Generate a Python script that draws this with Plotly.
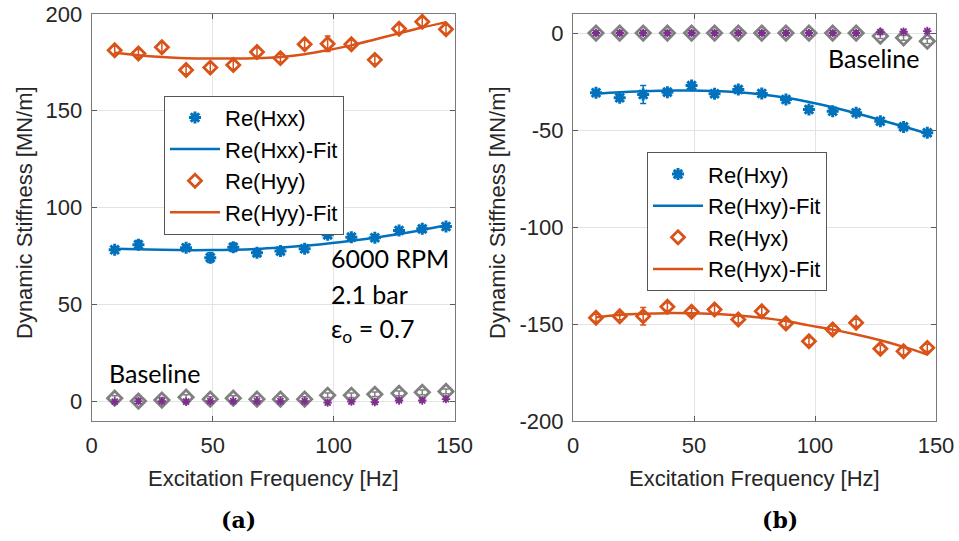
import plotly.graph_objects as go

# ---------------- data ----------------
freq = [9.5, 19.3, 29, 39, 49, 58.5, 68.3, 78, 88, 97.5, 107.3, 117, 127, 136.6, 146.4]

# panel (a)
freq_hxx = [9.5, 19.3, 39, 49, 58.5, 68.3, 78, 88, 97.5, 107.3, 117, 127, 136.6, 146.4]
re_hxx = [78.2, 80.8, 79.2, 74.1, 79.5, 76.6, 77.5, 78.7, 85.9, 84.7, 84.4, 88.1, 89.0, 90.2]
re_hxx_err = [1.2, 2.2, 1.2, 2.5, 2.2, 1.2, 1.2, 1.2, 1.0, 1.0, 1.2, 1.2, 1.0, 1.2]
re_hxx_fit = [78.7, 78.4, 78.2, 78.0, 78.0, 78.2, 78.6, 79.3, 80.2, 81.4, 82.8, 84.4, 86.3, 88.4, 90.8]

re_hyy = [181.3, 179.6, 182.8, 171.1, 172.3, 173.7, 180.4, 177.2, 184.4, 184.6, 184.4, 176.3, 192.4, 196.0, 192.1]
re_hyy_err = [2.0, 2.0, 2.5, 2.0, 2.2, 2.2, 2.2, 2.0, 2.0, 4.0, 2.0, 2.0, 2.0, 2.2, 2.2]
re_hyy_fit = [180.0, 178.7, 177.8, 177.2, 177.0, 177.0, 177.1, 177.8, 179.2, 181.3, 183.8, 186.8, 190.0, 193.0, 195.8]

base_a_gray = [1.5, 0.0, 0.5, 2.0, 1.0, 1.5, 1.0, 1.0, 1.0, 3.0, 3.0, 3.5, 4.0, 4.5, 5.0]
base_a_purple = [-0.3, 0.0, 0.0, -0.3, 0.0, 0.0, 0.0, 0.0, 0.0, -0.8, -0.3, -0.5, 0.3, 0.3, 1.0]

# panel (b)
re_hxy = [-30.8, -33.4, -31.7, -30.5, -27.1, -31.3, -29.1, -31.2, -34.3, -39.4, -40.3, -41.1, -45.5, -48.4, -51.4]
re_hxy_err = [1.2, 1.5, 4.6, 1.2, 1.5, 1.5, 1.2, 1.2, 1.0, 1.5, 1.2, 1.2, 1.2, 1.2, 1.2]
re_hxy_fit = [-31.2, -30.5, -30.0, -29.7, -29.6, -29.9, -30.6, -31.7, -33.4, -35.6, -38.3, -41.4, -44.8, -48.2, -51.8]

re_hyx = [-146.8, -146.0, -146.0, -141.1, -143.7, -142.5, -147.7, -143.4, -149.7, -158.9, -152.8, -149.4, -162.8, -164.0, -162.3]
re_hyx_err = [1.8, 1.8, 4.5, 2.0, 1.8, 2.0, 1.8, 2.0, 1.8, 1.8, 1.8, 1.8, 1.8, 1.8, 1.8]
re_hyx_fit = [-146.5, -145.3, -144.7, -144.4, -144.5, -144.9, -145.6, -146.8, -148.5, -150.7, -152.9, -155.4, -158.4, -161.8, -165.7]

base_b_gray = [0, 0, 0, 0, 0, 0, 0, 0, 0, 0, 0, 0, -1.6, -2.5, -4.2]
base_b_purple = [0, 0, 0, 0, 0, 0, 0, 0, 0, 0, 0, 0, 0.5, 0.7, 1.0]

x_ticks = [0, 50, 100, 150]
ya_ticks = [0, 50, 100, 150, 200]
yb_ticks = [0, -50, -100, -150, -200]
yb_ticktext = ["0", "-50", "-100", "-150", "-200"]

# ---------------- style ----------------
BLUE = "#0072BD"
ORANGE = "#D95319"
GRAY = "#808080"
PURPLE = "#7E2F8E"
FONT = "Liberation Sans, Arial, sans-serif"
TXT = "#262626"

fig = go.Figure()


def err(arr, color):
    return dict(type="data", array=arr, visible=True, color=color, thickness=1.5, width=3)


def add_panel(xa, ya, legend, base_gray, base_purple, pts1, e1, fit1, name1, pts2, e2, fit2, name2, x1=None):
    x1 = x1 if x1 is not None else freq
    fig.add_trace(go.Scatter(x=freq, y=base_gray, mode="markers", xaxis=xa, yaxis=ya,
                             marker=dict(symbol="diamond-open", size=11, color=GRAY, line=dict(width=2.8, color=GRAY)),
                             error_y=err([1.2] * len(freq), GRAY), showlegend=False))
    fig.add_trace(go.Scatter(x=freq, y=base_purple, mode="markers", xaxis=xa, yaxis=ya,
                             marker=dict(symbol="asterisk-open", size=7, color=PURPLE, line=dict(width=1.8, color=PURPLE)),
                             showlegend=False))
    fig.add_trace(go.Scatter(x=x1, y=pts1, mode="markers", name=name1, xaxis=xa, yaxis=ya, legend=legend,
                             marker=dict(symbol="asterisk-open", size=10, color=BLUE, line=dict(width=3, color=BLUE)),
                             error_y=err(e1, BLUE)))
    fig.add_trace(go.Scatter(x=freq, y=fit1, mode="lines", name=name1 + "-Fit", xaxis=xa, yaxis=ya, legend=legend,
                             line=dict(color=BLUE, width=2.5, shape="spline")))
    fig.add_trace(go.Scatter(x=freq, y=pts2, mode="markers", name=name2, xaxis=xa, yaxis=ya, legend=legend,
                             marker=dict(symbol="diamond-open", size=10, color=ORANGE, line=dict(width=2.8, color=ORANGE)),
                             error_y=err(e2, ORANGE)))
    fig.add_trace(go.Scatter(x=freq, y=fit2, mode="lines", name=name2 + "-Fit", xaxis=xa, yaxis=ya, legend=legend,
                             line=dict(color=ORANGE, width=2.5, shape="spline")))


add_panel("x", "y", "legend", base_a_gray, base_a_purple, re_hxx, re_hxx_err, re_hxx_fit, "Re(Hxx)",
          re_hyy, re_hyy_err, re_hyy_fit, "Re(Hyy)", x1=freq_hxx)
add_panel("x2", "y2", "legend2", base_b_gray, base_b_purple, re_hxy, re_hxy_err, re_hxy_fit, "Re(Hxy)",
          re_hyx, re_hyx_err, re_hyx_fit, "Re(Hyx)")

W, H = 959, 541
axis_common = dict(showline=True, linecolor="#7a7a7a", linewidth=1, mirror="ticks", ticks="inside",
                   ticklen=5, tickcolor="#5a5a5a", showgrid=True, gridcolor="#e3e3e3", gridwidth=1,
                   zeroline=False, automargin=False, tickfont=dict(family=FONT, size=22, color=TXT))

ydom = [1 - 421 / H, 1 - 14 / H]
fig.update_layout(
    width=W, height=H, margin=dict(l=0, r=0, t=0, b=0, autoexpand=False),
    paper_bgcolor="white", plot_bgcolor="white",
    xaxis=dict(domain=[91.7 / W, 454.7 / W], range=[0, 150], tickvals=x_ticks, anchor="y",
               ticklabelstandoff=5, **axis_common),
    yaxis=dict(domain=ydom, range=[-10.3, 200], tickvals=ya_ticks, anchor="x",
               ticklabelstandoff=4, **axis_common),
    xaxis2=dict(domain=[573 / W, 936 / W], range=[0, 150], tickvals=x_ticks, anchor="y2",
                ticklabelstandoff=5, **axis_common),
    yaxis2=dict(domain=ydom, range=[-200, 9.8], tickvals=yb_ticks, ticktext=yb_ticktext, anchor="x2",
                ticklabelstandoff=4, **axis_common),
    legend=dict(x=164 / W, y=1 - 95.7 / H, xanchor="left", yanchor="top", bgcolor="white",
                bordercolor="#555555", borderwidth=1, itemwidth=50,
                font=dict(family=FONT, size=22, color="black"), tracegroupgap=0),
    legend2=dict(x=647 / W, y=1 - 152.3 / H, xanchor="left", yanchor="top", bgcolor="white",
                 bordercolor="#555555", borderwidth=1, itemwidth=50,
                 font=dict(family=FONT, size=22, color="black"), tracegroupgap=0),
)

ANN_FONT = dict(family="Lato, Noto Sans, sans-serif", size=25, color="black")
anns = [
    dict(text="6000 RPM", x=329 / W, y=1 - 258 / H),
    dict(text="2.1 bar", x=329 / W, y=1 - 294 / H),
    dict(text="ε<sub>o</sub> = 0.7", x=329 / W, y=1 - 330 / H),
    dict(text="Baseline", x=107 / W, y=1 - 373 / H),
    dict(text="Baseline", x=826 / W, y=1 - 58 / H),
]
for a in anns:
    fig.add_annotation(xref="paper", yref="paper", xanchor="left", yanchor="middle", showarrow=False,
                       font=ANN_FONT, **a)

TITLE_FONT = dict(family=FONT, size=22, color=TXT)
fig.add_annotation(text="Excitation Frequency [Hz]", x=273.2 / W, y=1 - 478 / H, xref="paper", yref="paper",
                   showarrow=False, xanchor="center", yanchor="middle", font=TITLE_FONT)
fig.add_annotation(text="Excitation Frequency [Hz]", x=754.5 / W, y=1 - 478 / H, xref="paper", yref="paper",
                   showarrow=False, xanchor="center", yanchor="middle", font=TITLE_FONT)
fig.add_annotation(text="Dynamic Stiffness [MN/m]", x=24 / W, y=1 - 213 / H, xref="paper", yref="paper",
                   showarrow=False, xanchor="center", yanchor="middle", textangle=-90, font=TITLE_FONT)
fig.add_annotation(text="Dynamic Stiffness [MN/m]", x=497 / W, y=1 - 213 / H, xref="paper", yref="paper",
                   showarrow=False, xanchor="center", yanchor="middle", textangle=-90, font=TITLE_FONT)

LBL_FONT = dict(family="DejaVu Serif, serif", size=22, color="black")
fig.add_annotation(text="<b>(a)</b>", x=238 / W, y=1 - 520 / H, xref="paper", yref="paper",
                   showarrow=False, xanchor="center", yanchor="middle", font=LBL_FONT)
fig.add_annotation(text="<b>(b)</b>", x=780 / W, y=1 - 520 / H, xref="paper", yref="paper",
                   showarrow=False, xanchor="center", yanchor="middle", font=LBL_FONT)

fig.write_html("out.html")
